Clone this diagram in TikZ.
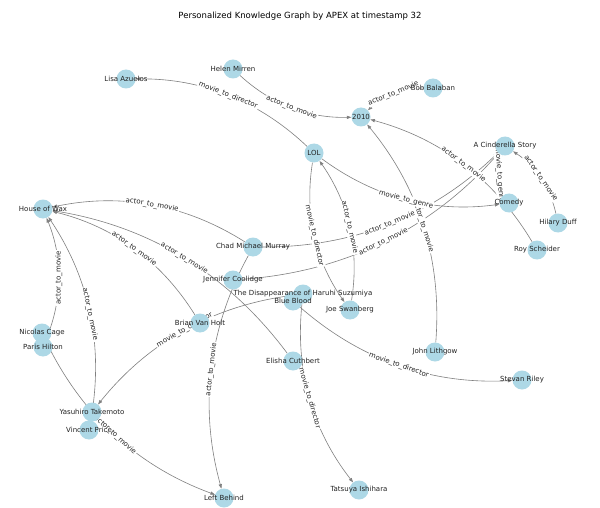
\documentclass[tikz,border=0pt]{standalone}
\usepackage{fontspec}
\setmainfont{DejaVu Sans}
\usetikzlibrary{arrows.meta}
\definecolor{nodeblue}{HTML}{ADD8E6}
\definecolor{edgegray}{HTML}{808080}
\definecolor{txt}{HTML}{222222}
\pgfdeclarelayer{paper}
\pgfdeclarelayer{edges}
\pgfdeclarelayer{elabels}
\pgfsetlayers{paper,edges,elabels,main}
\newcommand{\kgatm}{actor\_to\_movie}
\newcommand{\kgmtd}{movie\_to\_director}
\newcommand{\kgmtg}{movie\_to\_genre}
\newcommand{\kgedge}[3]{%
  \begin{pgfonlayer}{edges}\draw[kgline] (#1) to[kgbend] (#2);\end{pgfonlayer}%
  \begin{pgfonlayer}{elabels}\path (#1) to[kgbend] node[elabel] {#3} (#2);\end{pgfonlayer}%
}
\tikzset{
  kgcirc/.style={circle, fill=nodeblue, minimum size=19pt, inner sep=0pt},
  ntext/.style={font=\fontsize{7}{8}\selectfont, text=txt, inner sep=0pt},
  kgline/.style={draw=edgegray, line width=0.6pt, -{Triangle[length=4.5pt,width=3.2pt]}},
  kgbend/.style={bend right=22, looseness=0.92},
  elabel/.style={sloped, pos=0.5, fill=white, rounded corners=1.5pt, inner sep=1pt, font=\fontsize{7}{8}\selectfont, text=txt},
  titletext/.style={font=\fontsize{8.5}{10}\selectfont, text=black, inner sep=0pt}
}
\begin{document}
\begin{tikzpicture}[x=1pt,y=1pt]
\begin{pgfonlayer}{paper}
\fill[white] (0,0) rectangle (600,-508);
\end{pgfonlayer}
\useasboundingbox (0,0) rectangle (600,-508);
\node[titletext] (title) at (300,-16) {Personalized Knowledge Graph by APEX at timestamp 32};
% circles
\node[kgcirc] (lisa) at (126,-79) {};
\node[kgcirc] (helen) at (233,-69) {};
\node[kgcirc] (bob) at (433,-88) {};
\node[kgcirc] (y2010) at (361,-117) {};
\node[kgcirc] (lol) at (314,-153) {};
\node[kgcirc] (acs) at (505,-146) {};
\node[kgcirc] (comedy) at (509,-203) {};
\node[kgcirc] (hilary) at (558,-223) {};
\node[kgcirc] (roy) at (537,-250) {};
\node[kgcirc] (how) at (43,-209) {};
\node[kgcirc] (chad) at (253,-247) {};
\node[kgcirc] (jen) at (233,-280) {};
\node[kgcirc] (haruhi) at (303,-294) {};
\node[kgcirc] (blue) at (293,-301) {};
\node[kgcirc] (joe) at (350,-310) {};
\node[kgcirc] (brian) at (200,-323) {};
\node[kgcirc] (elisha) at (293,-361) {};
\node[kgcirc] (john) at (435,-352) {};
\node[kgcirc] (stevan) at (522,-380) {};
\node[kgcirc] (nicolas) at (42,-333) {};
\node[kgcirc] (paris) at (43,-347) {};
\node[kgcirc] (yasu) at (92,-412) {};
\node[kgcirc] (vincent) at (89,-430) {};
\node[kgcirc] (lb) at (224,-498) {};
\node[kgcirc] (tatsuya) at (359,-490) {};
% node texts
\node[ntext] (t-lisa) at (lisa) {Lisa Azuelos};
\node[ntext] (t-helen) at (helen) {Helen Mirren};
\node[ntext] (t-bob) at (bob) {Bob Balaban};
\node[ntext] (t-2010) at (y2010) {2010};
\node[ntext] (t-lol) at (lol) {LOL};
\node[ntext] (t-acs) at (acs) {A Cinderella Story};
\node[ntext] (t-comedy) at (comedy) {Comedy};
\node[ntext] (t-hilary) at (hilary) {Hilary Duff};
\node[ntext] (t-roy) at (roy) {Roy Scheider};
\node[ntext] (t-how) at (how) {House of Wax};
\node[ntext] (t-chad) at (chad) {Chad Michael Murray};
\node[ntext] (t-jen) at (jen) {Jennifer Coolidge};
\node[ntext] (t-haruhi) at (haruhi) {The Disappearance of Haruhi Suzumiya};
\node[ntext] (t-blue) at (blue) {Blue Blood};
\node[ntext] (t-joe) at (joe) {Joe Swanberg};
\node[ntext] (t-brian) at (brian) {Brian Van Holt};
\node[ntext] (t-elisha) at (elisha) {Elisha Cuthbert};
\node[ntext] (t-john) at (john) {John Lithgow};
\node[ntext] (t-stevan) at (stevan) {Stevan Riley};
\node[ntext] (t-nicolas) at (nicolas) {Nicolas Cage};
\node[ntext] (t-paris) at (paris) {Paris Hilton};
\node[ntext] (t-yasu) at (yasu) {Yasuhiro Takemoto};
\node[ntext] (t-vincent) at (vincent) {Vincent Price};
\node[ntext] (t-lb) at (lb) {Left Behind};
\node[ntext] (t-tatsuya) at (tatsuya) {Tatsuya Ishihara};
% edges
\kgedge{lol}{lisa}{\kgmtd}
\kgedge{helen}{y2010}{\kgatm}
\kgedge{bob}{y2010}{\kgatm}
\kgedge{roy}{y2010}{\kgatm}
\kgedge{hilary}{acs}{\kgatm}
\kgedge{acs}{comedy}{\kgmtg}
\kgedge{lol}{joe}{\kgmtd}
\kgedge{joe}{lol}{\kgatm}
\kgedge{jen}{acs}{\kgatm}
\kgedge{chad}{acs}{\kgatm}
\kgedge{john}{y2010}{\kgatm}
\kgedge{lol}{comedy}{\kgmtg}
\kgedge{chad}{how}{\kgatm}
\kgedge{brian}{how}{\kgatm}
\kgedge{elisha}{how}{\kgatm}
\kgedge{paris}{how}{\kgatm}
\kgedge{vincent}{how}{\kgatm}
\kgedge{nicolas}{lb}{\kgatm}
\kgedge{chad}{lb}{\kgatm}
\kgedge{haruhi}{yasu}{\kgmtd}
\kgedge{haruhi}{tatsuya}{\kgmtd}
\kgedge{blue}{stevan}{\kgmtd}
\end{tikzpicture}
\end{document}
